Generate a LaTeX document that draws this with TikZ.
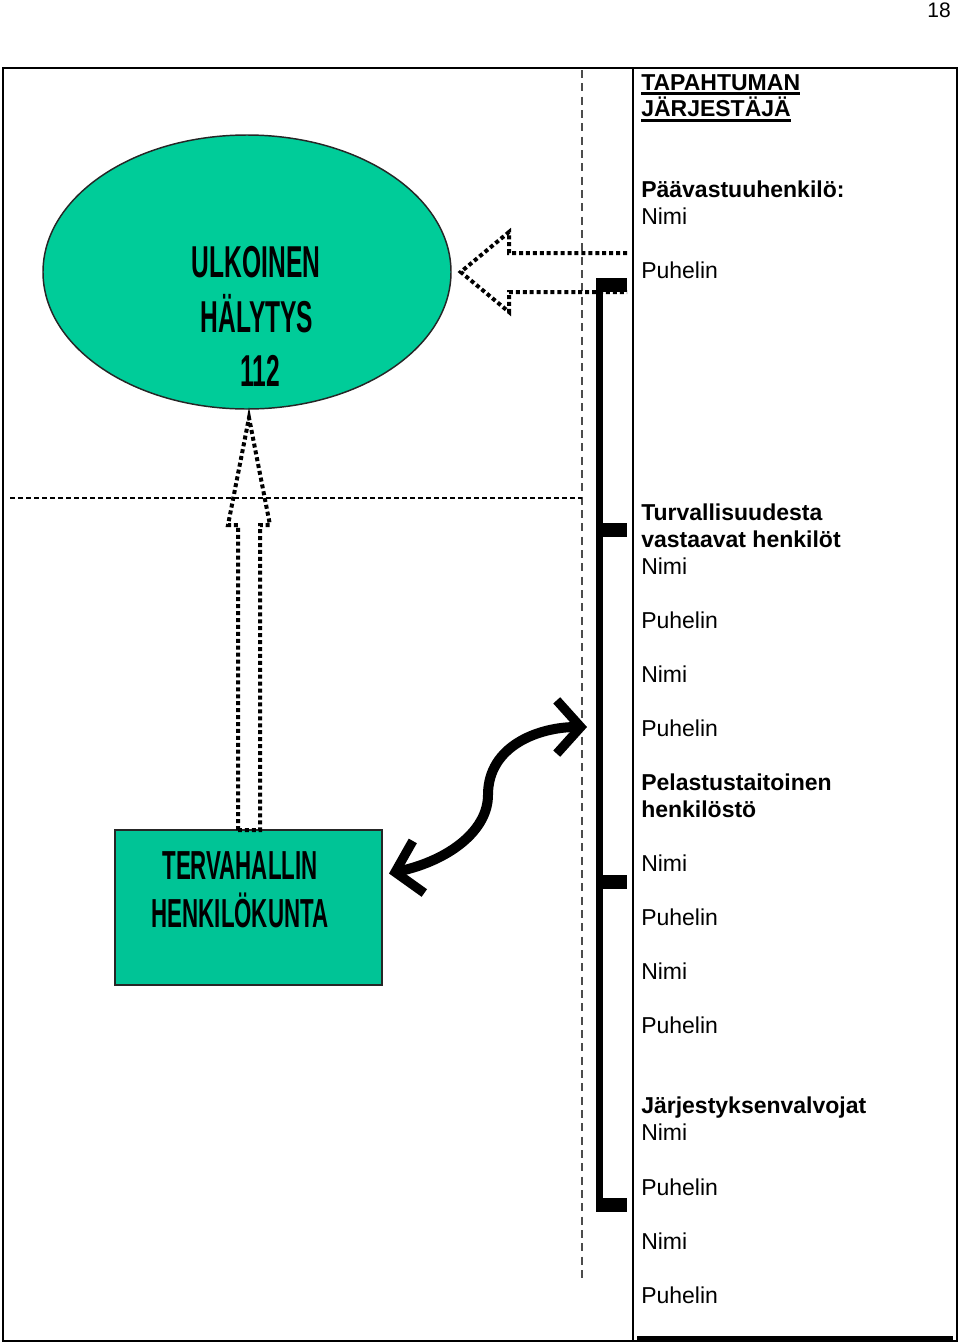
\documentclass[tikz,border=0pt]{standalone}
\usepackage{fontspec}
\setmainfont{Liberation Sans}
\usetikzlibrary{arrows.meta,calc,shapes.geometric}
\definecolor{tealA}{RGB}{0,204,153}
\definecolor{tealB}{RGB}{0,196,150}
\newcommand{\cond}[1]{\scalebox{0.55}[1]{#1}}
\begin{document}
\begin{tikzpicture}[x=0.75pt,y=-0.75pt,
  txt/.style={inner sep=0pt,anchor=base west,font=\fontsize{17.25}{20}\selectfont},
  btxt/.style={inner sep=0pt,anchor=base west,font=\fontsize{17.25}{20}\selectfont\bfseries},
  big/.style={inner sep=0pt,anchor=base,font=\fontsize{33.5}{40}\selectfont\bfseries},
  mid/.style={inner sep=0pt,anchor=base,font=\fontsize{30.4}{36}\selectfont\bfseries},
  dotarrow/.style={line width=3pt,dash pattern=on 3pt off 2.2pt},
  framel/.style={line width=1.1pt},
  curvearrow/.style={line width=7.5pt,
    >={Straight Barb[length=18pt,width=40pt,line width=7pt]}, <->}
]
\useasboundingbox (0,0) rectangle (960,1343);
\node[anchor=base east,inner sep=0pt,font=\fontsize{15.75}{18}\selectfont] (pg) at (951,17) {18};
\draw[framel] (3,68) rectangle (957,1341);
\draw[framel] (633,68) -- (633,1341);
\draw[line width=3pt] (637,1338) -- (953,1338);
\draw[line width=1.1pt, black!70, dash pattern=on 6pt off 4pt] (582,70) -- (582,1280);
\draw[line width=1.1pt, dash pattern=on 3.75pt off 2.25pt] (10,498) -- (582,498);

% ellipse
\node[ellipse, draw=black!85, line width=1.1pt, fill=tealA, minimum width=306pt, minimum height=205.5pt, inner sep=0pt] (ulk) at (247,272) {};
\node[big] (u1) at (256,277) {\cond{ULKOINEN}};
\node[big] (u2) at (257,332) {\cond{HÄLYTYS}};
\node[big] (u3) at (260,386) {\cond{112}};

% box
\node[draw=black!85, line width=1.5pt, fill=tealB, minimum width=200.25pt, minimum height=116.25pt, inner sep=0pt] (terv) at (248.5,907.5) {};
\node[mid] (t1) at (240,879) {\cond{TERVAHALLIN}};
\node[mid] (t2) at (240,927) {\cond{HENKILÖKUNTA}};

% bracket
\fill (596,278) rectangle (603,1212);
\fill (598,278) rectangle (627,292);
\fill (598,523) rectangle (627,537);
\fill (598,875) rectangle (627,889);
\fill (598,1198) rectangle (627,1212);
\coordinate (brtop) at (627,272);
\coordinate (brmid) at (596,727);

% dotted block arrows
\draw[dotarrow] ($(brtop)+(0,-19)$) -- (509,253) -- (509,232) -- ($(ulk.east)+(9,0)$) -- (509,312) -- (509,292) -- ($(brtop)+(0,20)$);
\draw[dotarrow] (238,830) -- (238,525) -- (228,525) -- ($(ulk.south)+(2,8)$) -- (270,525) -- (260,525) -- (260,830) -- cycle;

% curved double arrow
\coordinate (ca) at ($(terv.east)+(6,-34)$);
\coordinate (cb) at ($(brmid)+(-9,0)$);
\draw[curvearrow] (ca) .. controls (450,860) and (488,830) .. (488,795) .. controls (488,745) and (540,727) .. (cb);

% right column text
\node[btxt] (h1) at (641,90) {TAPAHTUMAN};
\node[btxt] (h2) at (641,116) {JÄRJESTÄJÄ};
\draw[line width=1.6pt] ($(h1.base west)+(0,3.5)$) -- ($(h1.base east)+(0,3.5)$);
\draw[line width=1.6pt] ($(h2.base west)+(0,4.5)$) -- ($(h2.base east)+(0,4.5)$);
\node[btxt] (a0) at (641,197) {Päävastuuhenkilö:};
\node[txt] (a1) at (641,224) {Nimi};
\node[txt] (a2) at (641,278) {Puhelin};
\node[btxt] (b0) at (641,520) {Turvallisuudesta};
\node[btxt] (b0b) at (641,547) {vastaavat henkilöt};
\node[txt] (b1) at (641,574) {Nimi};
\node[txt] (b2) at (641,628) {Puhelin};
\node[txt] (b3) at (641,682) {Nimi};
\node[txt] (b4) at (641,736) {Puhelin};
\node[btxt] (c0) at (641,790) {Pelastustaitoinen};
\node[btxt] (c0b) at (641,817) {henkilöstö};
\node[txt] (c1) at (641,871) {Nimi};
\node[txt] (c2) at (641,925) {Puhelin};
\node[txt] (c3) at (641,979) {Nimi};
\node[txt] (c4) at (641,1033) {Puhelin};
\node[btxt] (d0) at (641,1113) {Järjestyksenvalvojat};
\node[txt] (d1) at (641,1140) {Nimi};
\node[txt] (d2) at (641,1195) {Puhelin};
\node[txt] (d3) at (641,1249) {Nimi};
\node[txt] (d4) at (641,1303) {Puhelin};
\end{tikzpicture}
\end{document}
